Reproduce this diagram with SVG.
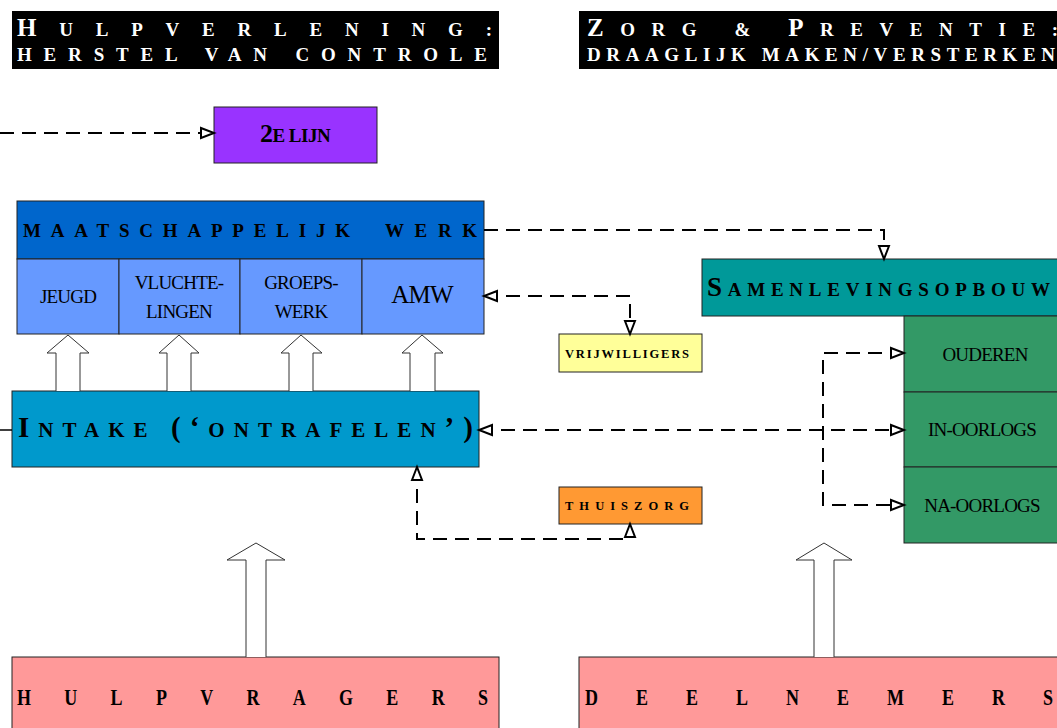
<svg xmlns="http://www.w3.org/2000/svg" width="1057" height="728" viewBox="0 0 1057 728">
<style>
text{font-family:"Liberation Serif","Times New Roman",serif;}
.b{font-weight:bold;}
.w{fill:#fff;}
.box{stroke:#222;stroke-width:1;}
.dash{fill:none;stroke:#000;stroke-width:2;stroke-dasharray:14 8;}
.blk{fill:#fff;stroke:#333;stroke-width:1;}
.c{text-anchor:middle;}
</style>
<defs>
<marker id="ah" markerUnits="userSpaceOnUse" markerWidth="18" markerHeight="14" refX="15" refY="7" orient="auto-start-reverse" viewBox="0 0 18 14">
<path d="M2,2 L15,7 L2,12 Z" fill="#fff" stroke="#000" stroke-width="2" stroke-linejoin="miter"/>
</marker>
</defs>
<rect width="1057" height="728" fill="#fff"/>

<g id="header-hulpverlening">
<rect x="12" y="11" width="487" height="58" fill="#000"/>
<text class="b w" x="17" y="36" textLength="475" lengthAdjust="spacing"><tspan font-size="25">H</tspan><tspan font-size="19">ULPVERLENING:</tspan></text>
<text class="b w" x="17" y="61" font-size="19" textLength="470" lengthAdjust="spacing">HERSTEL VAN CONTROLE</text>
</g>

<g id="header-zorg">
<rect x="579" y="11" width="490" height="58" fill="#000"/>
<text class="b w" x="587" y="36" textLength="471" lengthAdjust="spacing"><tspan font-size="25">Z</tspan><tspan font-size="19">ORG &amp; </tspan><tspan font-size="25">P</tspan><tspan font-size="19">REVENTIE:</tspan></text>
<text class="b w" x="587" y="61" font-size="19" textLength="468" lengthAdjust="spacing">DRAAGLIJK MAKEN/VERSTERKEN</text>
</g>

<g id="tweede-lijn">
<rect class="box" x="214" y="107" width="163" height="56" fill="#9933FF"/>
<text class="b c" x="295" y="142" letter-spacing="-0.5"><tspan font-size="26">2</tspan><tspan font-size="19">E LIJN</tspan></text>
</g>

<g id="maatschappelijk-werk">
<rect class="box" x="17" y="201" width="467" height="58" fill="#0066CC"/>
<text class="b" x="23" y="237" font-size="19" textLength="327" lengthAdjust="spacing">MAATSCHAPPELIJK</text>
<text class="b" x="385" y="237" font-size="19" textLength="92" lengthAdjust="spacing">WERK</text>
</g>

<g id="jeugd">
<rect class="box" x="17" y="259" width="102" height="75" fill="#6699FF"/>
<text class="c" x="68" y="303" font-size="19" letter-spacing="-0.8">JEUGD</text>
</g>
<g id="vluchtelingen">
<rect class="box" x="119" y="259" width="121" height="75" fill="#6699FF"/>
<text class="c" x="179" y="289" font-size="19" letter-spacing="-0.8">VLUCHTE-</text>
<text class="c" x="179" y="318" font-size="19" letter-spacing="-0.8">LINGEN</text>
</g>
<g id="groepswerk">
<rect class="box" x="240" y="259" width="122" height="75" fill="#6699FF"/>
<text class="c" x="301" y="289" font-size="19" letter-spacing="-0.8">GROEPS-</text>
<text class="c" x="301" y="318" font-size="19" letter-spacing="-0.8">WERK</text>
</g>
<g id="amw">
<rect class="box" x="362" y="259" width="122" height="75" fill="#6699FF"/>
<text class="c" x="422" y="303" font-size="25" letter-spacing="-0.8">AMW</text>
</g>

<g id="intake">
<rect class="box" x="12" y="391" width="467" height="76" fill="#0099CC"/>
<text class="b" x="18" y="437" textLength="455" lengthAdjust="spacing"><tspan font-size="29">I</tspan><tspan font-size="21">NTAKE </tspan><tspan font-size="29">(‘</tspan><tspan font-size="21">ONTRAFELEN</tspan><tspan font-size="29">’)</tspan></text>
</g>

<g id="vrijwilligers">
<rect class="box" x="559" y="334" width="143" height="38" fill="#FFFF99"/>
<text class="b" x="565" y="358" font-size="12.5" textLength="124" lengthAdjust="spacing">VRIJWILLIGERS</text>
</g>

<g id="thuiszorg">
<rect class="box" x="559" y="487" width="143" height="37" fill="#FF9933"/>
<text class="b" x="565" y="510" font-size="12.5" textLength="124" lengthAdjust="spacing">THUISZORG</text>
</g>

<g id="samenlevingsopbouw">
<rect class="box" x="702" y="259" width="370" height="57" fill="#009999"/>
<text class="b" x="707" y="296" textLength="343" lengthAdjust="spacing"><tspan font-size="27">S</tspan><tspan font-size="19">AMENLEVINGSOPBOUW</tspan></text>
</g>

<g id="ouderen">
<rect class="box" x="904" y="316" width="170" height="76" fill="#339966"/>
<text class="c" x="985" y="361" font-size="19" letter-spacing="-0.8">OUDEREN</text>
</g>
<g id="in-oorlogs">
<rect class="box" x="904" y="392" width="170" height="75" fill="#339966"/>
<text class="c" x="982" y="436" font-size="19" letter-spacing="-0.8">IN-OORLOGS</text>
</g>
<g id="na-oorlogs">
<rect class="box" x="904" y="467" width="170" height="76" fill="#339966"/>
<text class="c" x="982" y="512" font-size="19" letter-spacing="-0.8">NA-OORLOGS</text>
</g>

<g id="hulpvragers">
<rect class="box" x="12" y="657" width="487" height="80" fill="#FF9999"/>
<text class="b" transform="translate(17,705) scale(0.75,1)" x="0" y="0" font-size="24" textLength="628" lengthAdjust="spacing">HULPVRAGERS</text>
</g>
<g id="deelnemers">
<rect class="box" x="579" y="657" width="490" height="80" fill="#FF9999"/>
<text class="b" transform="translate(585,705) scale(0.75,1)" x="0" y="0" font-size="24" textLength="624" lengthAdjust="spacing">DEELNEMERS</text>
</g>

<g id="connectors">
<path class="blk" d="M56,391 V353 H47 L68,335 L89,353 H80 V391"/>
<path class="blk" d="M167,391 V353 H159 L179,335 L199,353 H191 V391"/>
<path class="blk" d="M289,391 V353 H281 L301,335 L322,353 H313 V391"/>
<path class="blk" d="M410,391 V353 H402 L422,335 L443,353 H435 V391"/>
<path class="blk" d="M246,657 V560 H227 L256,543 L285,560 H266 V657"/>
<path class="blk" d="M814,657 V560 H796 L824,543 L852,560 H834 V657"/>

<line x1="0" y1="430" x2="12" y2="430" stroke="#000" stroke-width="1.5"/>
<path class="dash" d="M0,133 H214" marker-end="url(#ah)"/>
<path class="dash" d="M484,230 H884 V259" marker-end="url(#ah)"/>
<path class="dash" d="M484,296 H630 V334" marker-start="url(#ah)" marker-end="url(#ah)"/>
<path class="dash" d="M479,430 H904" marker-start="url(#ah)" marker-end="url(#ah)"/>
<path class="dash" d="M904,353 H823 V505 H904" marker-start="url(#ah)" marker-end="url(#ah)"/>
<path class="dash" d="M417,467 V539 H630 V524" marker-start="url(#ah)" marker-end="url(#ah)"/>
</g>
</svg>
